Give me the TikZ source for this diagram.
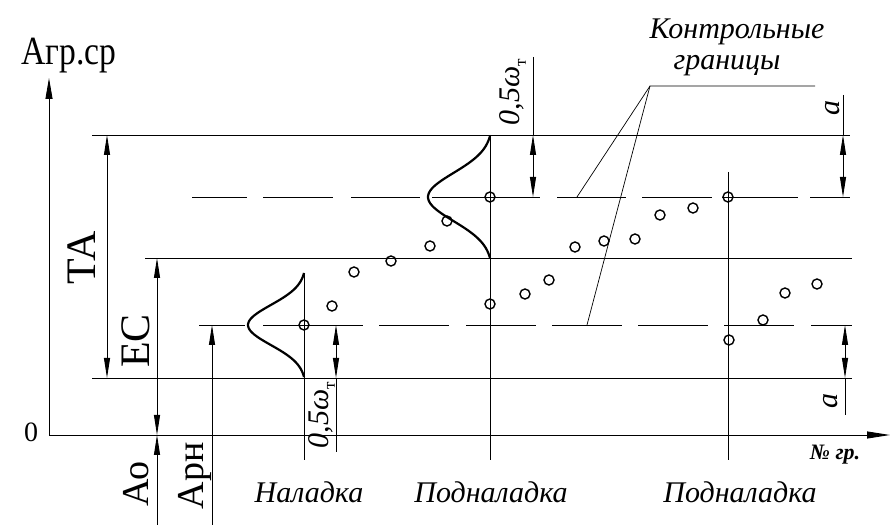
\documentclass[tikz,border=0pt]{standalone}
\usepackage{fontspec}
\setmainfont{Liberation Serif}
\usetikzlibrary{arrows.meta}

\tikzset{
  thinln/.style={line width=0.9pt},
  leader/.style={line width=0.7pt},
  dimline/.style={line width=0.9pt,{Triangle[length=20pt,width=6pt]}-{Triangle[length=20pt,width=6pt]}},
  bell/.style={line width=2.2pt,line join=round},
  grp/.style={line width=1.4pt},
  bigtxt/.style={font=\fontsize{42}{42}\selectfont,inner sep=0pt},
  midtxt/.style={font=\fontsize{38}{38}\selectfont,inner sep=0pt},
  captxt/.style={font=\itshape\fontsize{30}{30}\selectfont,inner sep=0pt},
}
\newcommand{\halfw}{{\itshape 0,5ω}\raisebox{-0.2em}{\upshape\fontsize{17}{17}\selectfont т}}

\begin{document}
\begin{tikzpicture}[x=1pt,y=-1pt]
\useasboundingbox (0,0) rectangle (895,526);
% axes
\draw[thinln,-{Triangle[length=21pt,width=7pt]}] (49,435) -- (49,78);
\draw[thinln,-{Triangle[length=23pt,width=7pt]}] (49,435) -- (890,435);
\node[font=\fontsize{40}{40}\selectfont,inner sep=0pt,xscale=0.84,anchor=base] (yname) at (69,65) {Агр.ср};
\node[font=\fontsize{28}{28}\selectfont,inner sep=0pt] (zero) at (31,432) {0};
\node[font=\bfseries\itshape\fontsize{22}{22}\selectfont,inner sep=0pt] (xname) at (835,455) {№ гр.};
% tolerance field and middle line
\draw[thinln] (92,135) -- (850,135);
\draw[thinln] (145,258) -- (852,258);
\draw[thinln] (92,378) -- (852,378);
% control limits
\foreach \a/\b in {192/247,263/333,351/420,432/540,557/626,642/712,722/798,810/850}
  \draw[thinln] (\a,197) -- (\b,197);
\foreach \a/\b in {199/245,263/363,379/449,466/536,552/622,638/708,724/794,811/852}
  \draw[thinln] (\a,325) -- (\b,325);
% dimensions on the left
\draw[dimline] (107,135) -- (107,378);
\draw[dimline] (157,258) -- (157,435);
\draw[thinln,-{Triangle[length=20pt,width=6pt]}] (157,525) -- (157,435);
\draw[thinln,-{Triangle[length=20pt,width=6pt]}] (212,525) -- (212,325);
\node[bigtxt,rotate=90] (ta) at (82,258) {ТА};
\node[bigtxt,rotate=90] (ec) at (136,341) {ЕС};
\node[midtxt,rotate=90] (ao) at (136,484) {Ао};
\node[midtxt,rotate=90] (arn) at (195,476) {Арн};
% setting and resettings
\draw[thinln] (304,273) -- (304,460);
\draw[thinln] (490,135) -- (490,460);
\draw[thinln] (728,172) -- (728,460);
\draw[bell] plot[domain=-52:52,samples=50,smooth]
  ({304-56*(exp(-0.5*(\x/20)*(\x/20))-0.034)/0.966},{325+\x});
\draw[bell] plot[domain=-61:61,samples=50,smooth]
  ({490-62*(exp(-0.5*(\x/24)*(\x/24))-0.039)/0.961},{197+\x});
\node[captxt] (nal) at (309,492) {Наладка};
\node[captxt] (pod1) at (491,492) {Подналадка};
\node[captxt] (pod2) at (740,492) {Подналадка};
% 0,5 omega
\draw[thinln] (533,57) -- (533,135);
\draw[dimline] (533,135) -- (533,197);
\node[captxt,rotate=90] (w1) at (513,92) {\halfw};
\draw[dimline] (336,325) -- (336,378);
\draw[thinln] (336,378) -- (336,452);
\node[captxt,rotate=90] (w2) at (322,415) {\halfw};
% a
\draw[thinln] (843,95) -- (843,135);
\draw[dimline] (843,135) -- (843,197);
\node[captxt,rotate=90] (a1) at (833,108) {a};
\draw[dimline] (845,325) -- (845,378);
\draw[thinln] (845,378) -- (845,415);
\node[captxt,rotate=90] (a2) at (831,401) {a};
% group means
\foreach \x/\y in {304/325,332/306,354/272,391/261,430/246,447/221,490/197,490/304,
  525/294,549/280,575/247,604/241,635/239,660/215,693/208,728/197,729/340,763/320,785/293,817/284}
  \draw[grp] (\x,\y) circle (5pt);
% control limits label
\coordinate (lead) at (650,86);
\draw[leader] (815,86) -- (lead) -- (577,197);
\draw[leader] (lead) -- (587,325);
\node[captxt] (kont) at (737,32) {Контрольные};
\node[captxt] (gran) at (727,66) {границы};
\end{tikzpicture}
\end{document}
